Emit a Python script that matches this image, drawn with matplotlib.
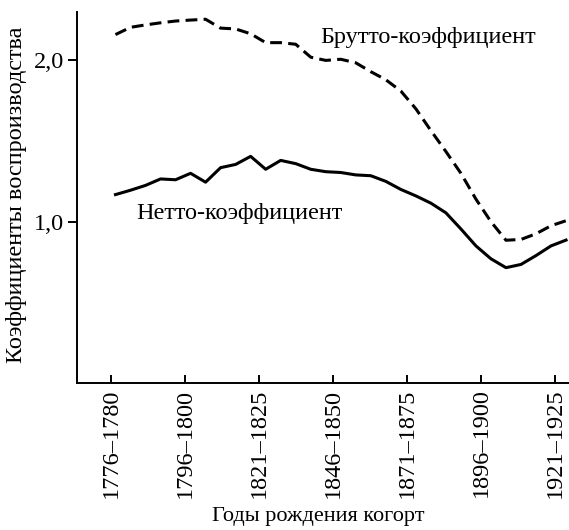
import numpy as np
import matplotlib
matplotlib.use('Agg')
import matplotlib.pyplot as plt

plt.rcParams['font.family'] = ['Liberation Serif', 'DejaVu Serif']
plt.rcParams['lines.scale_dashes'] = False

# tick labels (birth cohorts)
cohort_labels = ['1776\u20131780', '1796\u20131800', '1821\u20131825', '1846\u20131850',
                 '1871\u20131875', '1896\u20131900', '1921\u20131925']

# gross reproduction rate (dashed), one value per 5-year cohort
brutto = [2.16, 2.205, 2.22, 2.233, 2.244, 2.25, 2.255, 2.20, 2.195, 2.165,
          2.11, 2.11, 2.10, 2.02, 2.00, 2.007, 1.985, 1.93, 1.88, 1.81,
          1.70, 1.565, 1.435, 1.30, 1.14, 1.00, 0.885, 0.89, 0.925, 0.975, 1.006]

# net reproduction rate (solid)
netto = [1.168, 1.195, 1.225, 1.265, 1.26, 1.30, 1.245, 1.335, 1.355, 1.405,
         1.325, 1.38, 1.36, 1.325, 1.31, 1.305, 1.29, 1.285, 1.25, 1.20,
         1.16, 1.115, 1.055, 0.955, 0.85, 0.77, 0.715, 0.735, 0.79, 0.85, 0.886]

x = np.linspace(0.06, 6.15, len(netto))

fig = plt.figure(figsize=(5.69, 5.30), dpi=100)
ax = fig.add_axes([77 / 569, 1 - 383 / 530, 1 - 77 / 569, (383 - 12) / 530])

ax.plot(x, brutto, color='black', lw=2.2, dashes=(8.5, 4.5), solid_capstyle='butt')
ax.plot(x, netto, color='black', lw=2.2)

ax.set_xlim(-0.46, 6.19)
ax.set_ylim(0, 2.3)

ax.set_xticks(range(len(cohort_labels)))
ax.set_xticklabels(cohort_labels, rotation=90, fontsize=17.5)
ax.set_yticks([1.0, 2.0])
ax.set_yticklabels(['1,0', '2,0'], fontsize=17.5)

ax.tick_params(axis='x', direction='in', length=6, width=1.4, pad=4)
ax.tick_params(axis='y', direction='out', length=6.5, width=1.4, pad=3)

for side in ['top', 'right']:
    ax.spines[side].set_visible(False)
for side in ['left', 'bottom']:
    ax.spines[side].set_linewidth(1.4)

fig.text(320 / 569, 1 - 38 / 530, 'Брутто-коэффициент', fontsize=17.5, va='center', ha='left')
fig.text(136 / 569, 1 - 214 / 530, 'Нетто-коэффициент', fontsize=17.5, va='center', ha='left')

fig.text(17 / 569, 1 - 195 / 530, 'Коэффициенты воспроизводства', fontsize=17.5,
         rotation=90, va='center', ha='center')
fig.text(318 / 569, 1 - 517 / 530, 'Годы рождения когорт', fontsize=16,
         va='center', ha='center')

fig.savefig('out.png', dpi=100)
